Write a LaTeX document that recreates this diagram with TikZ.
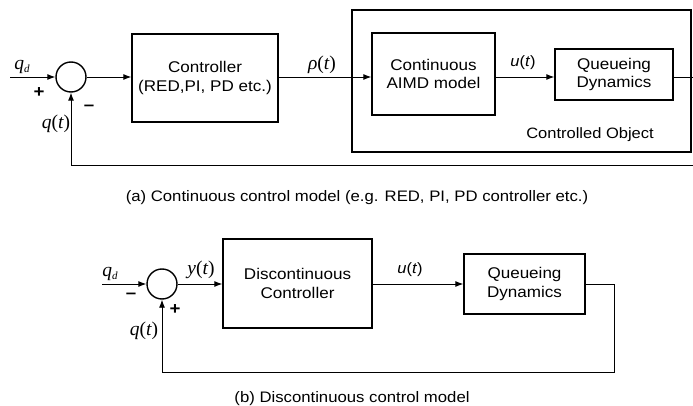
\documentclass[tikz,border=0pt]{standalone}
\usepackage{fontspec}
\setmainfont{Liberation Sans}[FakeStretch=1.1]
\newfontfamily\tms{Liberation Serif}
\usetikzlibrary{arrows.meta}
\newcommand{\mi}[1]{{\tms\itshape #1}}
\begin{document}
\begin{tikzpicture}[x=1pt,y=-1pt,
  blk/.style={draw,line width=1.4pt,inner sep=0,align=center,font=\fontsize{15.5}{18.5}\selectfont},
  sumc/.style={circle,draw,line width=1.4pt,minimum size=30pt,inner sep=0},
  arr/.style={-{Latex[length=8pt,width=6pt]},line width=0.9pt},
  ln/.style={line width=0.9pt},
  lbl/.style={font=\tms\fontsize{19.5}{22}\selectfont,inner sep=0},
  sgn/.style={font=\fontsize{17}{19}\selectfont\bfseries,inner sep=0},
  captxt/.style={font=\fontsize{15.2}{18}\selectfont,inner sep=0}]
\clip (0,0) rectangle (693,406);
% ---------- (a) ----------
\coordinate (ina) at (10,77);
\node[sumc] (s1) at (71,77) {};
\node[blk,minimum width=146pt,minimum height=88pt] (ctrl) at (205,78) {Controller\\(RED,PI, PD etc.)};
\node[draw,line width=1.4pt,minimum width=339pt,minimum height=142pt,inner sep=0] (obj) at (521.5,81) {};
\node[blk,minimum width=123pt,minimum height=82pt] (aimd) at (433.5,74) {Continuous\\AIMD model};
\node[blk,minimum width=118pt,minimum height=51pt] (qa) at (614,74.5) {Queueing\\Dynamics};
\node[font=\fontsize{15}{17}\selectfont,inner sep=0] (colab) at (590,135) {Controlled Object};
\coordinate (ra) at (700,77);
\coordinate (rb) at (700,165);
\coordinate (fa) at (71,165);
\draw[arr] (ina) -- (s1.west);
\draw[arr] (s1.east) -- (s1.east -| ctrl.west);
\draw[arr] (s1.east -| ctrl.east) -- (s1.east -| aimd.west);
\draw[arr] (s1.east -| aimd.east) -- (s1.east -| qa.west);
\draw[ln] (s1.east -| qa.east) -- (ra) -- (rb) -- (fa);
\draw[arr] (fa) -- (s1.south);
\node[lbl] (qd1) at (22,67) {\mi{q}\raisebox{-0.35ex}{\fontsize{11}{12}\selectfont\mi{d}}};
\node[sgn] (p1) at (39,93) {+};
\node[sgn] (m1) at (89,108) {--};
\node[lbl] (qt1) at (56,124) {\mi{q}(\mi{t})};
\node[lbl] (rho) at (322,65) {\mi{ρ}(\mi{t})};
\node[font=\fontsize{15}{17}\selectfont,inner sep=0] (ua) at (523,63) {\textit{u}(\textit{t})};
\node[captxt] (capa) at (357,198) {(a) Continuous control model (e.g. RED, PI, PD controller etc.)};
% ---------- (b) ----------
\coordinate (inb) at (102,284);
\node[sumc] (s2) at (162,284) {};
\node[blk,minimum width=149pt,minimum height=89pt] (dc) at (297.5,283.5) {Discontinuous\\Controller};
\node[blk,minimum width=121pt,minimum height=60pt] (qb) at (524.5,284) {Queueing\\Dynamics};
\coordinate (rc) at (614,284);
\coordinate (rd) at (614,372);
\coordinate (fb) at (162,372);
\draw[arr] (inb) -- (s2.west);
\draw[arr] (s2.east) -- (s2.east -| dc.west);
\draw[arr] (s2.east -| dc.east) -- (s2.east -| qb.west);
\draw[ln,line width=0.7pt] (s2.east -| qb.east) -- (rc) -- (rd) -- (fb);
\draw[arr] (fb) -- (s2.south);
\node[lbl] (qd2) at (110,274) {\mi{q}\raisebox{-0.35ex}{\fontsize{11}{12}\selectfont\mi{d}}};
\node[sgn] (m2) at (131,296) {--};
\node[sgn] (p2) at (175,310) {+};
\node[lbl] (qt2) at (144,331) {\mi{q}(\mi{t})};
\node[lbl] (yt) at (201,270) {\mi{y}(\mi{t})};
\node[font=\fontsize{15}{17}\selectfont,inner sep=0] (ub) at (410,270) {\textit{u}(\textit{t})};
\node[captxt] (capb) at (352,399) {(b) Discontinuous control model};
\end{tikzpicture}
\end{document}
